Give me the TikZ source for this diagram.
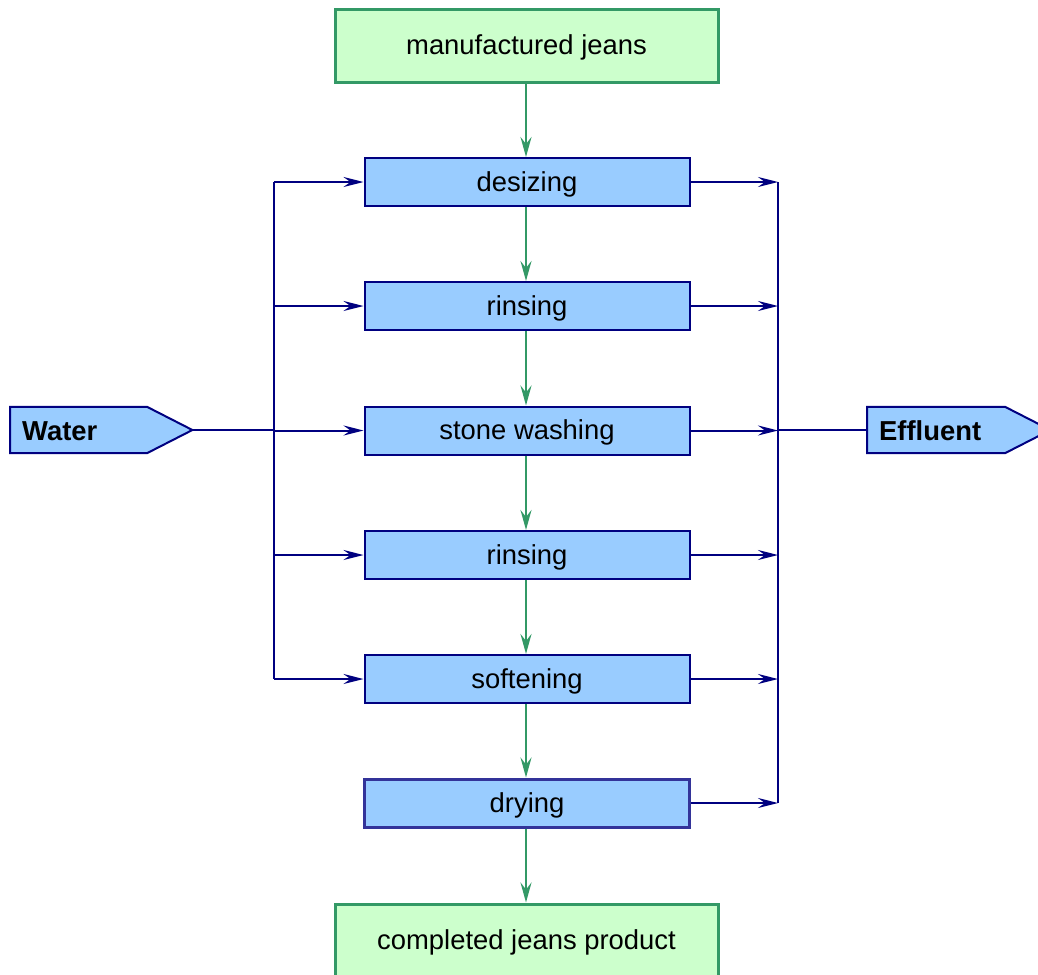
\documentclass[tikz,border=0pt]{standalone}
\usepackage{fontspec}
\setmainfont{Liberation Sans}
\usetikzlibrary{arrows.meta,calc,backgrounds}
\definecolor{navy}{HTML}{000080}
\definecolor{dryborder}{HTML}{333399}
\definecolor{leaf}{HTML}{339966}
\definecolor{mint}{HTML}{CCFFCC}
\definecolor{sky}{HTML}{99CCFF}
\tikzset{
  endbox/.style={draw=leaf, fill=mint, line width=3pt, minimum width=383pt, minimum height=72pt, inner sep=0pt, text height=20pt, text depth=2pt},
  stagebox/.style={draw=navy, fill=sky, line width=2pt, minimum width=325pt, minimum height=48pt, inner sep=0pt, text height=20pt, text depth=2pt},
  flowtag/.style={font=\bfseries, minimum width=182pt, minimum height=46pt, inner sep=0pt, inner xsep=12pt, text width=158pt, align=left, text height=20pt, text depth=0pt},
  bluearrow/.style={draw=navy, line width=2pt, -{Stealth[length=20pt,width=10pt,inset=7pt]}},
  blueline/.style={draw=navy, line width=2pt},
  greenarrow/.style={draw=leaf, line width=2.5pt, -{Stealth[length=20pt,width=11pt,inset=7pt]}},
}
\begin{document}
\begin{tikzpicture}[x=1pt,y=-1pt]
\fontsize{27.4}{32}\selectfont
\useasboundingbox (0,0) rectangle (1038,974);

% product boxes
\node[endbox] (start) at (526.5,46) {manufactured jeans};
\node[endbox] (finish) at (526.5,940) {completed jeans product};

% process stages
\node[stagebox] (desize) at (527,182) {desizing};
\node[stagebox] (rinseA) at (527,306) {rinsing};
\node[stagebox] (stone) at (527,430.5) {stone washing};
\node[stagebox] (rinseB) at (527,555) {rinsing};
\node[stagebox] (soften) at (527,679) {softening};
\node[stagebox, draw=dryborder, line width=3pt] (dry) at (527,803) {drying};

% water and effluent tags
\node[flowtag, anchor=west] (water) at (10,430) {Water};
\node[flowtag, anchor=west, text width=171pt, minimum width=195pt] (effluent) at (867,430) {Effluent};
\begin{scope}[on background layer]
  \draw[navy, fill=sky, line width=2pt]
    (water.north west) -- ++(137,0) -- (water.east) -- ($(water.south west)+(137,0)$) -- (water.south west) -- cycle;
  \draw[navy, fill=sky, line width=2pt]
    (effluent.north west) -- ++(138,0) -- ($(effluent.east)+(-12,0)$) -- ($(effluent.south west)+(138,0)$) -- (effluent.south west) -- cycle;
\end{scope}

% supply and drain buses
\coordinate (lbus) at (274,0);
\coordinate (rbus) at (778,0);
\draw[blueline] (lbus |- desize.west) -- (lbus |- soften.west);
\draw[blueline] (rbus |- desize.east) -- (rbus |- dry.east);

% water feed
\draw[blueline] (water.east) -- (lbus |- water.east);
\foreach \s in {desize,rinseA,stone,rinseB,soften}
  \draw[bluearrow] (lbus |- \s.west) -- (\s.west);

% effluent collection
\foreach \s in {desize,rinseA,stone,rinseB,soften,dry}
  \draw[bluearrow] (\s.east) -- (rbus |- \s.east);
\draw[blueline] (rbus |- effluent.west) -- (effluent.west);

% main product flow
\draw[greenarrow] (start.south -| 526,0) -- (desize.north -| 526,0);
\draw[greenarrow] (desize.south -| 526,0) -- (rinseA.north -| 526,0);
\draw[greenarrow] (rinseA.south -| 526,0) -- (stone.north -| 526,0);
\draw[greenarrow] (stone.south -| 526,0) -- (rinseB.north -| 526,0);
\draw[greenarrow] (rinseB.south -| 526,0) -- (soften.north -| 526,0);
\draw[greenarrow] (soften.south -| 526,0) -- (dry.north -| 526,0);
\draw[greenarrow] (dry.south -| 526,0) -- (finish.north -| 526,0);
\end{tikzpicture}
\end{document}
